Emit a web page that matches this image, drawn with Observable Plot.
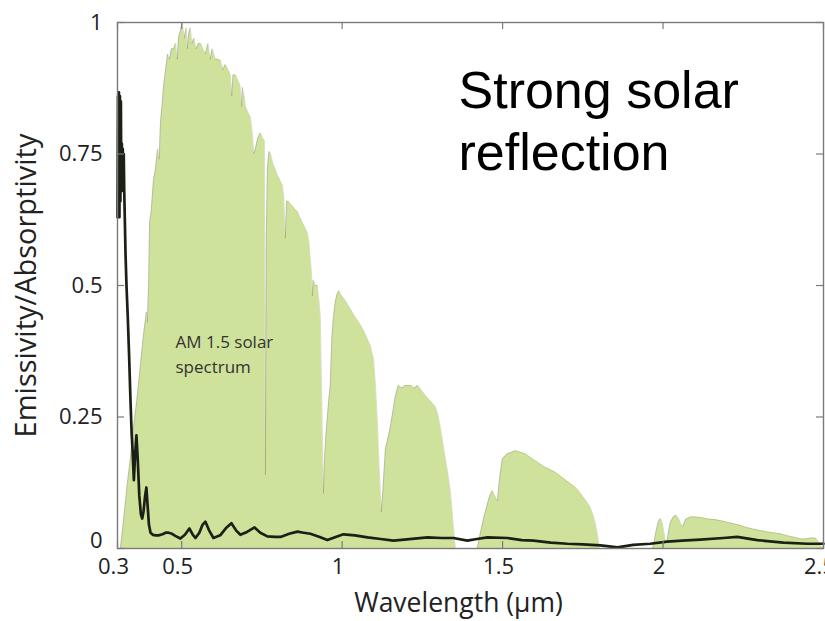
<!DOCTYPE html>
<html>
<head>
<meta charset="utf-8">
<script src="https://cdn.jsdelivr.net/npm/d3@7"></script>
<script src="https://cdn.jsdelivr.net/npm/@observablehq/plot@0.6"></script>
<style>
  body { margin: 0; background: #fff; }
  #chart { width: 825px; height: 621px; overflow: hidden; }
</style>
</head>
<body>
<div id="chart"></div>
<script>
// AM 1.5 solar spectrum (normalised)
const solarWl = [0.300,0.309,0.320,0.330,0.340,0.350,0.360,0.370,0.380,0.390,0.393,0.397,0.400,0.405,0.412,0.418,0.425,0.430,0.434,0.440,0.443,0.450,0.456,0.462,0.468,0.475,0.481,0.486,0.490,0.496,0.502,0.508,0.514,0.518,0.522,0.527,0.532,0.538,0.545,0.552,0.559,0.566,0.574,0.582,0.589,0.595,0.600,0.605,0.612,0.621,0.628,0.636,0.645,0.652,0.656,0.660,0.668,0.675,0.682,0.687,0.689,0.695,0.699,0.706,0.714,0.720,0.725,0.730,0.737,0.745,0.752,0.758,0.761,0.764,0.767,0.772,0.777,0.785,0.792,0.798,0.806,0.814,0.818,0.823,0.827,0.833,0.839,0.846,0.853,0.861,0.868,0.876,0.884,0.892,0.897,0.901,0.905,0.907,0.910,0.916,0.923,0.928,0.932,0.936,0.939,0.942,0.946,0.950,0.954,0.958,0.963,0.968,0.973,0.979,0.985,0.990,0.998,1.006,1.016,1.026,1.040,1.057,1.070,1.088,1.098,1.104,1.110,1.113,1.118,1.122,1.127,1.131,1.135,1.143,1.150,1.158,1.166,1.175,1.186,1.197,1.213,1.225,1.235,1.248,1.260,1.275,1.290,1.298,1.306,1.314,1.322,1.330,1.337,1.343,1.347,1.353,1.421,1.431,1.442,1.453,1.460,1.468,1.476,1.484,1.490,1.499,1.515,1.540,1.555,1.571,1.587,1.602,1.618,1.633,1.648,1.664,1.680,1.696,1.712,1.727,1.740,1.752,1.763,1.773,1.781,1.789,1.796,1.802,1.967,1.973,1.979,1.986,1.992,1.997,2.003,2.008,2.013,2.018,2.023,2.032,2.041,2.050,2.056,2.062,2.070,2.085,2.100,2.116,2.140,2.160,2.178,2.200,2.220,2.241,2.260,2.280,2.303,2.330,2.365,2.390,2.412,2.430,2.443,2.460,2.475,2.485,2.490,2.500];
const solarVal = [0,0,0.06,0.12,0.17,0.23,0.28,0.34,0.40,0.45,0.43,0.50,0.62,0.64,0.70,0.72,0.76,0.74,0.81,0.85,0.876,0.91,0.94,0.93,0.95,0.95,0.96,0.93,0.97,0.985,1.0,0.97,0.99,0.95,0.98,0.99,0.96,0.97,0.95,0.96,0.96,0.95,0.94,0.96,0.93,0.95,0.94,0.93,0.93,0.928,0.91,0.92,0.91,0.90,0.86,0.90,0.90,0.89,0.88,0.84,0.877,0.86,0.84,0.83,0.82,0.79,0.75,0.76,0.78,0.79,0.78,0.775,0.14,0.60,0.72,0.755,0.75,0.73,0.72,0.71,0.70,0.69,0.67,0.59,0.66,0.66,0.655,0.65,0.645,0.64,0.63,0.62,0.61,0.60,0.58,0.55,0.52,0.48,0.51,0.50,0.50,0.47,0.44,0.30,0.20,0.105,0.18,0.22,0.25,0.28,0.31,0.40,0.44,0.47,0.485,0.49,0.48,0.475,0.465,0.455,0.44,0.425,0.41,0.385,0.36,0.31,0.24,0.19,0.12,0.07,0.11,0.15,0.19,0.21,0.23,0.26,0.29,0.31,0.305,0.31,0.31,0.305,0.31,0.30,0.29,0.28,0.27,0.255,0.23,0.20,0.17,0.14,0.11,0.07,0.04,0,0,0.03,0.06,0.085,0.10,0.11,0.10,0.09,0.13,0.17,0.18,0.186,0.183,0.18,0.173,0.167,0.16,0.154,0.15,0.145,0.138,0.13,0.123,0.116,0.107,0.097,0.088,0.078,0.065,0.047,0.025,0,0,0.015,0.035,0.052,0.057,0.05,0.03,0.012,0.015,0.035,0.05,0.06,0.063,0.055,0.045,0.042,0.055,0.06,0.06,0.059,0.056,0.055,0.053,0.05,0.047,0.044,0.04,0.037,0.034,0.031,0.028,0.024,0.021,0.018,0.018,0.02,0.02,0.012,0.005,0];

// Emissivity / absorptivity curve
const emisWl = [0.3000,0.3015,0.3030,0.3045,0.3060,0.3075,0.3090,0.3105,0.3120,0.3135,0.3150,0.3165,0.3180,0.3195,0.3210,0.3230,0.3250,0.3280,0.3320,0.3360,0.3400,0.3440,0.3470,0.3510,0.3550,0.3590,0.3630,0.3680,0.3730,0.3770,0.3810,0.3860,0.3900,0.3940,0.3980,0.4030,0.4100,0.4200,0.4280,0.4400,0.4500,0.4590,0.4700,0.4800,0.4960,0.5100,0.5240,0.5350,0.5430,0.5550,0.5650,0.5740,0.5850,0.5990,0.6200,0.6400,0.6550,0.6700,0.6830,0.7050,0.7270,0.7450,0.7670,0.7900,0.8080,0.8350,0.8610,0.8800,0.9010,0.9300,0.9540,0.9800,1.0040,1.0400,1.0790,1.1200,1.1600,1.2100,1.2660,1.3100,1.3470,1.3900,1.4200,1.4530,1.5150,1.5600,1.5960,1.6500,1.7020,1.7500,1.8050,1.8580,1.9070,1.9600,2.0130,2.0600,2.1160,2.1880,2.2310,2.2940,2.3750,2.4500,2.5000];
const emisVal = [0.63,0.86,0.64,0.867,0.63,0.86,0.66,0.85,0.68,0.77,0.68,0.76,0.69,0.75,0.68,0.62,0.56,0.50,0.44,0.37,0.29,0.22,0.186,0.13,0.18,0.215,0.17,0.10,0.065,0.057,0.07,0.10,0.116,0.08,0.045,0.03,0.026,0.025,0.025,0.027,0.03,0.03,0.028,0.024,0.019,0.026,0.038,0.026,0.02,0.03,0.045,0.051,0.035,0.02,0.025,0.04,0.048,0.034,0.026,0.032,0.04,0.03,0.023,0.022,0.022,0.028,0.032,0.03,0.028,0.022,0.016,0.022,0.027,0.025,0.021,0.018,0.015,0.018,0.021,0.02,0.02,0.015,0.018,0.021,0.02,0.016,0.015,0.011,0.009,0.008,0.006,0.002,0.007,0.009,0.013,0.015,0.017,0.02,0.022,0.016,0.011,0.009,0.009];

// Axes
const xTicks = [0.3, 0.5, 1, 1.5, 2, 2.5];
const xTickLabels = ["0.3", "0.5", "1", "1.5", "2", "2.5"];
const yTicks = [0, 0.25, 0.5, 0.75, 1];
const yTickLabels = ["0", "0.25", "0.5", "0.75", "1"];
const xLabel = "Wavelength (µm)";
const yLabel = "Emissivity/Absorptivity";
const noteBig = "Strong solar\nreflection";
const noteSmall = "AM 1.5 solar\nspectrum";

const solar = solarWl.map((w, i) => ({w, v: solarVal[i]}));
const emis = emisWl.map((w, i) => ({w, v: emisVal[i]}));
const xFmt = new Map(xTicks.map((t, i) => [t, xTickLabels[i]]));
const yFmt = new Map(yTicks.map((t, i) => [t, yTickLabels[i]]));

const W = 825, H = 621, ML = 117, MR = 2, MT = 22, MB = 73;
const fw = W - ML - MR, fh = H - MT - MB, tl = 7;
const axisColor = "#7a7a7a";
const yAxisOpts = {tickSize: 0, tickPadding: 15, tickFormat: d => yFmt.get(d), fontSize: 22, label: null, color: "#222"};

const chart = Plot.plot({
  width: W, height: H,
  marginLeft: ML, marginRight: MR, marginTop: MT, marginBottom: MB,
  style: {fontFamily: "Open Sans", background: "#fff", color: "#222"},
  x: {domain: [0.3, 2.5]},
  y: {domain: [0, 1]},
  marks: [
    Plot.areaY(solar, {x: "w", y: "v", fill: "#cfe29b"}),
    Plot.line(solar, {x: "w", y: "v", stroke: "#3d3d3d", strokeWidth: 0.6, strokeOpacity: 0.3}),
    Plot.line(emis, {x: "w", y: "v", stroke: "#1b2016", strokeWidth: 2.7}),
    Plot.frame({stroke: axisColor, strokeWidth: 1.4}),
    Plot.tickY(yTicks, {y: d => d, insetRight: fw - tl, stroke: axisColor, strokeWidth: 1.2}),
    Plot.tickY(yTicks, {y: d => d, insetLeft: fw - tl, stroke: axisColor, strokeWidth: 1.2}),
    Plot.tickX(xTicks, {x: d => d, insetTop: fh - tl, stroke: axisColor, strokeWidth: 1.2}),
    Plot.tickX(xTicks, {x: d => d, insetBottom: fh - tl, stroke: axisColor, strokeWidth: 1.2}),
    Plot.axisY({...yAxisOpts, ticks: yTicks.filter(t => t !== 0)}),
    Plot.axisY({...yAxisOpts, ticks: yTicks.filter(t => t === 0), dy: -8}),
    Plot.axisX({ticks: xTicks, tickSize: 0, tickPadding: 10, tickFormat: d => xFmt.get(d), fontSize: 22, label: null, dx: -4, color: "#222"}),
    Plot.text([xLabel], {frameAnchor: "bottom", textAnchor: "middle", lineAnchor: "top", dx: -12, dy: 45, fontSize: 26.5, fill: "#222"}),
    Plot.text([yLabel], {frameAnchor: "left", textAnchor: "middle", lineAnchor: "top", rotate: -90, dx: -102, fontSize: 29, fill: "#222"}),
    Plot.text([noteBig], {frameAnchor: "top-left", textAnchor: "start", lineAnchor: "top", dx: 341, dy: 42, fontSize: 52, lineHeight: 1.19, fontFamily: "Liberation Sans", fill: "#000"}),
    Plot.text([noteSmall], {frameAnchor: "top-left", textAnchor: "start", lineAnchor: "top", dx: 58, dy: 308, fontSize: 17, lineHeight: 1.47, fill: "#333"})
  ]
});
document.getElementById("chart").appendChild(chart);
</script>
</body>
</html>
